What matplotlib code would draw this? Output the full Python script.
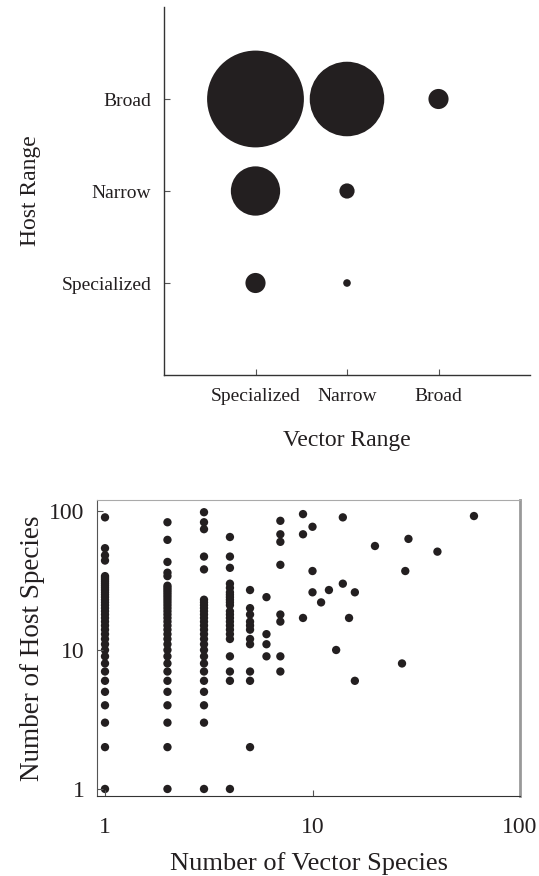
import matplotlib
matplotlib.use("Agg")
import matplotlib.pyplot as plt
import numpy as np

plt.rcParams['font.family'] = ['Liberation Serif', 'DejaVu Serif']

# ---- Top panel data: host range vs vector range (bubble counts) ----
range_labels = ["Specialized", "Narrow", "Broad"]
bubble_vector = ["Specialized", "Narrow", "Broad", "Specialized", "Narrow", "Specialized", "Narrow"]
bubble_host = ["Broad", "Broad", "Broad", "Narrow", "Narrow", "Specialized", "Specialized"]
bubble_count = [162, 96, 7, 42, 4, 7, 1]

# ---- Bottom panel data: number of vector species vs number of host species ----
n_vectors = [1, 2, 3, 4, 5, 6, 7, 9, 10, 11, 12, 13, 14, 15, 16, 20, 27, 28, 29, 40, 60]
n_hosts = [
    [1, 2, 3, 4, 5, 6, 7, 8] + list(range(9, 35)) + [44, 48, 54, 90],
    [1, 2, 3, 4, 5, 6, 7, 8] + list(range(9, 30)) + [34, 36, 43, 62, 83],
    [1, 3, 4, 5, 6, 7] + list(range(8, 24)) + [38, 47, 74, 83, 98],
    [1, 6, 7, 9, 12, 13, 14, 15, 16, 17, 18, 19, 21, 22, 23, 24, 25, 26, 28, 30, 39, 47, 65],
    [2, 6, 7, 11, 12, 14, 15, 16, 18, 20, 27],
    [9, 11, 13, 24],
    [7, 9, 16, 18, 41, 60, 68, 85],
    [17, 68, 95],
    [26, 37, 77],
    [22],
    [27],
    [10],
    [30, 90],
    [17],
    [6, 26],
    [56],
    [8],
    [37],
    [63],
    [51],
    [92],
]
x_ticks = [1, 10, 100]
y_ticks = [1, 10, 100]

ink = '#231f20'

fig = plt.figure(figsize=(5.39, 8.76), dpi=100)

# ---------- top panel ----------
ax1 = fig.add_axes([164/539, 1-375/876, 366/539, 368/876])
pos = {lab: i + 1 for i, lab in enumerate(range_labels)}
bx = [pos[v] for v in bubble_vector]
by = [pos[h] for h in bubble_host]
ax1.scatter(bx, by, s=np.array(bubble_count) * 30, color=ink, edgecolors='none')
ax1.set_xlim(0, 4)
ax1.set_ylim(0, 4)
ax1.set_xticks([1, 2, 3])
ax1.set_xticklabels(range_labels, fontsize=14)
ax1.set_yticks([1, 2, 3])
ax1.set_yticklabels(range_labels, fontsize=14)
ax1.tick_params(direction='in', length=4, width=0.8, color='#555555', pad=9, labelcolor=ink)
for side in ['top', 'right']:
    ax1.spines[side].set_visible(False)
for side in ['left', 'bottom']:
    ax1.spines[side].set_color('#333333')
    ax1.spines[side].set_linewidth(1.0)
ax1.set_xlabel("Vector Range", fontsize=17, color=ink, labelpad=18)
ax1.set_ylabel("Host Range", fontsize=17, color=ink, labelpad=15)

# ---------- bottom panel ----------
ax2 = fig.add_axes([97/539, 1-796/876, 423/539, 296/876])
xs, ys = [], []
for xv, hs in zip(n_vectors, n_hosts):
    for h in hs:
        xs.append(xv)
        ys.append(h)
ax2.scatter(xs, ys, s=36, color=ink, edgecolors='none')
ax2.set_xscale('log')
ax2.set_yscale('log')
ax2.set_xlim(0.915, 100)
ax2.set_ylim(0.89, 120)
ax2.set_xticks(x_ticks)
ax2.set_xticklabels([str(t) for t in x_ticks], fontsize=17)
ax2.set_yticks(y_ticks)
ax2.set_yticklabels([str(t) for t in y_ticks], fontsize=17)
ax2.minorticks_off()
ax2.tick_params(direction='in', length=4, width=0.8, color='#555555', labelcolor=ink)
ax2.tick_params(axis='x', pad=15)
ax2.tick_params(axis='y', pad=9)
ax2.spines['left'].set_color('#555555')
ax2.spines['bottom'].set_color('#333333')
ax2.spines['top'].set_color('#aaaaaa')
ax2.spines['right'].set_color('#999999')
ax2.spines['right'].set_linewidth(2.0)
ax2.set_xlabel("Number of Vector Species", fontsize=19, color=ink, labelpad=10)
ax2.set_ylabel("Number of Host Species", fontsize=19.5, color=ink, labelpad=3)

fig.savefig("out.png", dpi=100)
